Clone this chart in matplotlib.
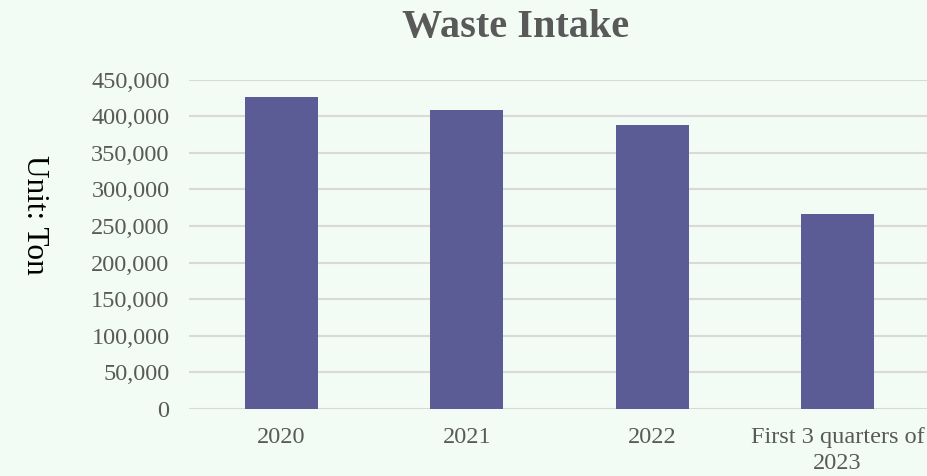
import matplotlib.pyplot as plt
from matplotlib.ticker import FuncFormatter

categories = ["2020", "2021", "2022", "First 3 quarters of\n2023"]
intake = [426000, 408000, 388000, 266000]
yticks = [0, 50000, 100000, 150000, 200000, 250000, 300000, 350000, 400000, 450000]

bg = "#f2fcf4"
bar_color = "#5b5b96"
text_gray = "#595959"

plt.rcParams['font.family'] = ['Liberation Serif', 'DejaVu Serif']

fig = plt.figure(figsize=(9.27, 4.76), dpi=100, facecolor=bg)
W, H = 927, 476
ax = fig.add_axes([189 / W, (H - 409) / H, (930 - 189) / W, (409 - 79.7) / H])
ax.set_facecolor(bg)

x = range(len(categories))
ax.bar(x, intake, width=0.395, color=bar_color, zorder=3)

ax.set_xlim(-0.5, len(categories) - 0.5)
ax.set_ylim(0, 450000)
ax.set_yticks(yticks)
ax.yaxis.set_major_formatter(FuncFormatter(lambda v, p: f"{int(v):,}"))
ax.set_xticks(list(x))
ax.set_xticklabels(categories, linespacing=1.3)
ax.tick_params(axis="both", length=0, labelsize=17.5, colors=text_gray)
ax.tick_params(axis="y", pad=14)
ax.tick_params(axis="x", pad=13)

ax.grid(axis="y", color="#d9d9d9", linewidth=1.5, zorder=0)
for s in ax.spines.values():
    s.set_visible(False)

fig.text(516 / W, 1 - 27 / H, "Waste Intake", ha="center", va="center",
         fontsize=29, fontweight="bold", color=text_gray)
fig.text(34 / W, 1 - 215 / H, "Unit: Ton", ha="center", va="center",
         rotation=270, fontsize=22.5, color="black")

fig.savefig("out.png", dpi=100, facecolor=bg)
